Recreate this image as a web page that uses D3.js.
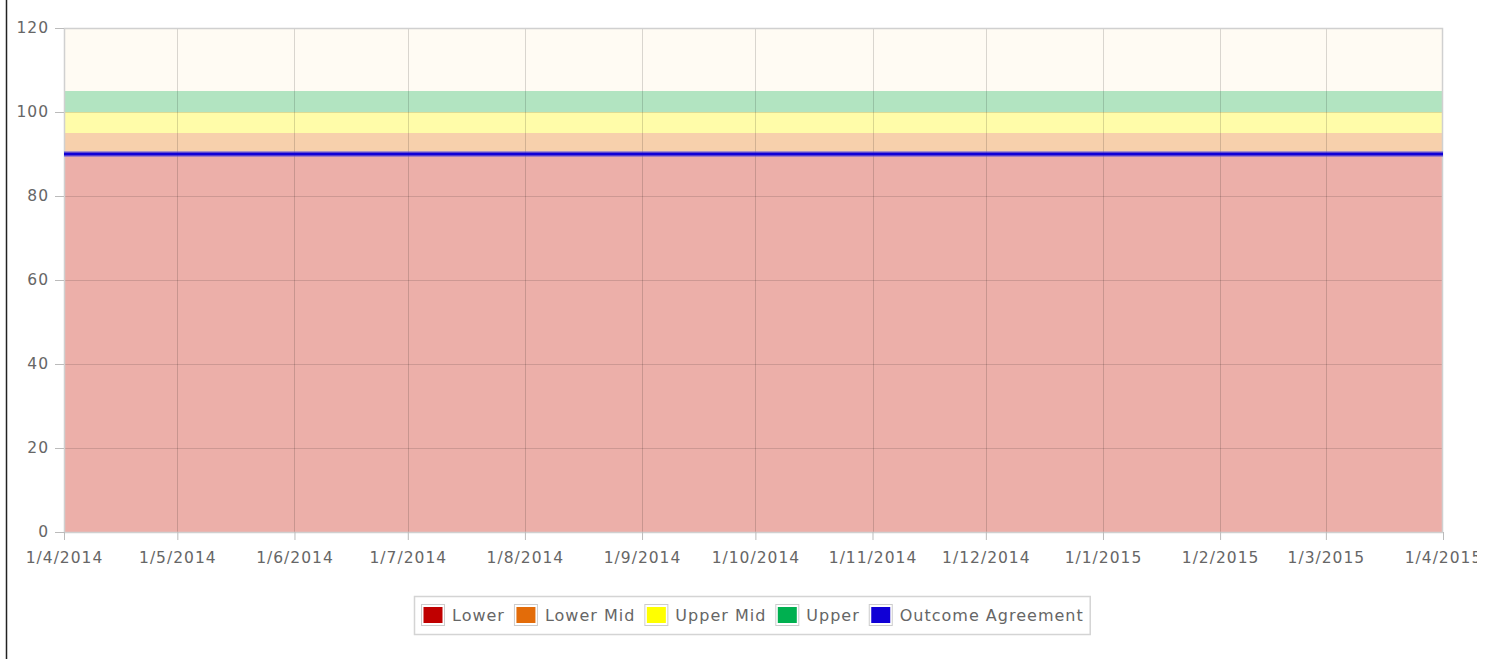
<!DOCTYPE html>
<html lang="en">
<head>
<meta charset="utf-8">
<title>Outcome Agreement bands</title>
<script src="https://d3js.org/d3.v7.min.js"></script>
<style type="text/css">
  body { margin: 0; background: #fff; }
  #wrap { width: 1477px; height: 659px; overflow: hidden; }
  text { font-family: "DejaVu Sans", Verdana, sans-serif; fill: #666; }
</style>
</head>
<body>
<div id="wrap"><svg id="chart" width="1477" height="659"></svg></div>
<script type="text/javascript">
// Months on the x axis
var months = ["2014-04-01", "2014-05-01", "2014-06-01", "2014-07-01", "2014-08-01",
              "2014-09-01", "2014-10-01", "2014-11-01", "2014-12-01", "2015-01-01",
              "2015-02-01", "2015-03-01", "2015-04-01"];

// Band thicknesses (stacked)
var lower     = [90, 90, 90, 90, 90, 90, 90, 90, 90, 90, 90, 90, 90];
var lowerMid  = [5, 5, 5, 5, 5, 5, 5, 5, 5, 5, 5, 5, 5];
var upperMid  = [5, 5, 5, 5, 5, 5, 5, 5, 5, 5, 5, 5, 5];
var upper     = [5, 5, 5, 5, 5, 5, 5, 5, 5, 5, 5, 5, 5];
// Outcome agreement line
var outcome   = [90, 90, 90, 90, 90, 90, 90, 90, 90, 90, 90, 90, 90];

var yTicks = [0, 20, 40, 60, 80, 100, 120];

var seriesNames = ["Lower", "Lower Mid", "Upper Mid", "Upper", "Outcome Agreement"];
var seriesColors = ["#c00000", "#e36c09", "#ffff00", "#00b050", "#1000d6"];

var parseDate = d3.timeParse("%Y-%m-%d");
var rows = months.map(function(m, i) {
  return { date: parseDate(m), lower: lower[i], lowerMid: lowerMid[i],
           upperMid: upperMid[i], upper: upper[i], outcome: outcome[i] };
});

var svg = d3.select("#chart");
var plotL = 64, plotR = 1443, plotT = 28, plotB = 532;

// frame line on the left
svg.append("line")
  .attr("x1", 6.5).attr("x2", 6.5).attr("y1", 0).attr("y2", 659)
  .attr("stroke", "#222").attr("stroke-width", 1.5);

var xScale = d3.scaleTime()
  .domain(d3.extent(rows, function(d) { return d.date; }))
  .range([plotL, plotR]);

var yScale = d3.scaleLinear()
  .domain([0, 120])
  .range([plotB, plotT]);

// plot background
svg.append("rect")
  .attr("x", plotL).attr("y", plotT)
  .attr("width", plotR - plotL).attr("height", plotB - plotT)
  .attr("fill", "#fffbf3");

var keys = ["lower", "lowerMid", "upperMid", "upper"];
var stacked = d3.stack().keys(keys)(rows);

var area = d3.area()
  .x(function(d) { return xScale(d.data.date); })
  .y0(function(d) { return yScale(d[0]); })
  .y1(function(d) { return yScale(d[1]); });

svg.selectAll("path.band")
  .data(stacked)
  .enter()
  .append("path")
  .attr("class", "band")
  .attr("d", area)
  .attr("fill", function(d, i) { return seriesColors[i]; })
  .attr("fill-opacity", 0.3);

// grid
svg.append("g")
  .selectAll("line")
  .data(months.slice(1, -1))
  .enter()
  .append("line")
  .attr("x1", function(d) { return Math.round(xScale(parseDate(d))) + 0.5; })
  .attr("x2", function(d) { return Math.round(xScale(parseDate(d))) + 0.5; })
  .attr("y1", plotT).attr("y2", plotB)
  .attr("stroke", "#000").attr("stroke-opacity", 0.15);

svg.append("g")
  .selectAll("line")
  .data(yTicks.slice(1, -1))
  .enter()
  .append("line")
  .attr("x1", plotL).attr("x2", plotR)
  .attr("y1", function(d) { return Math.round(yScale(d)) + 0.5; })
  .attr("y2", function(d) { return Math.round(yScale(d)) + 0.5; })
  .attr("stroke", "#000").attr("stroke-opacity", 0.13);

// plot border
svg.append("rect")
  .attr("x", plotL + 0.5).attr("y", plotT + 0.5)
  .attr("width", plotR - plotL - 1).attr("height", plotB - plotT)
  .attr("fill", "none").attr("stroke", "#d0d0d0").attr("stroke-width", 1.5);

// outcome line
var line = d3.line()
  .x(function(d) { return xScale(d.date); })
  .y(function(d) { return yScale(d.outcome); });

svg.append("path")
  .datum(rows)
  .attr("d", line)
  .attr("fill", "none")
  .attr("stroke", "#5a50e0").attr("stroke-opacity", 0.5)
  .attr("stroke-width", 6);

svg.append("path")
  .datum(rows)
  .attr("d", line)
  .attr("fill", "none")
  .attr("stroke", seriesColors[4])
  .attr("stroke-width", 3);

// axes
var fmt = d3.timeFormat("%-d/%-m/%Y");
var xAxis = d3.axisBottom(xScale)
  .tickValues(rows.map(function(d) { return d.date; }))
  .tickFormat(fmt)
  .tickSize(8)
  .tickPadding(12);

var yAxis = d3.axisLeft(yScale)
  .tickValues(yTicks)
  .tickSize(9)
  .tickPadding(6);

var gx = svg.append("g")
  .attr("transform", "translate(0," + plotB + ")")
  .call(xAxis);

var gy = svg.append("g")
  .attr("transform", "translate(" + plotL + ",0)")
  .call(yAxis);

[gx, gy].forEach(function(g) {
  g.select(".domain").remove();
  g.selectAll(".tick line").attr("stroke", "#bbb");
  g.selectAll("text").attr("font-size", "15.5px").attr("fill", "#666")
    .attr("letter-spacing", "1px")
    .attr("font-family", "'DejaVu Sans', Verdana, sans-serif");
});

// legend
var legend = svg.append("g");
var legendBox = legend.append("rect")
  .attr("fill", "#fff").attr("stroke", "#d4d4d4").attr("stroke-width", 1.5);

var lx = 421, ly = 604;
seriesNames.forEach(function(name, i) {
  var item = legend.append("g").attr("transform", "translate(" + lx + "," + ly + ")");
  item.append("rect")
    .attr("x", 0.5).attr("y", 0.5).attr("width", 23).attr("height", 21)
    .attr("fill", "#fff").attr("stroke", "#ccc");
  item.append("rect")
    .attr("x", 2.5).attr("y", 3).attr("width", 19).attr("height", 16)
    .attr("fill", seriesColors[i]);
  var t = item.append("text")
    .attr("x", 31).attr("y", 17)
    .attr("font-size", "16px")
    .attr("letter-spacing", "1px")
    .text(name);
  lx += 31 + t.node().getComputedTextLength() + 9;
});

legendBox
  .attr("x", 414.5).attr("y", 596.5)
  .attr("width", lx - 414 - 3).attr("height", 38);
</script>
</body>
</html>
